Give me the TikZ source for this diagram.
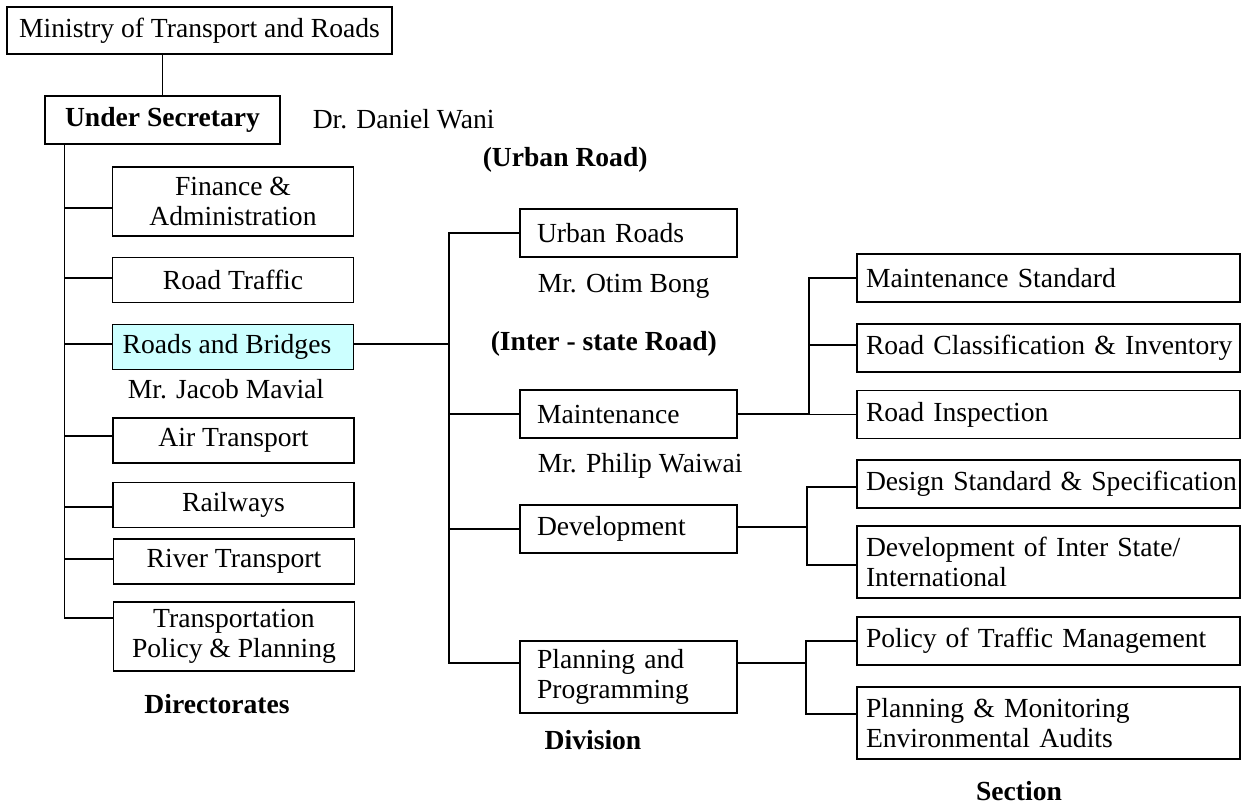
\documentclass[tikz,border=0pt]{standalone}
\usepackage{fontspec}
\setmainfont{Liberation Serif}
\definecolor{lightcyan}{HTML}{CCFFFF}
\begin{document}
\begin{tikzpicture}[x=1pt,y=-1pt, line width=1.5pt,
  every node/.style={font=\fontsize{27.6}{30}\selectfont},
  cbox/.style={draw, inner sep=0pt, align=center, minimum width=241pt, minimum height=45pt},
  mbox/.style={draw, inner xsep=17pt, inner ysep=0pt, text width=183pt, align=left, minimum height=48pt},
  rbox/.style={draw, inner xsep=9pt, inner ysep=0pt, text width=365pt, align=left, minimum height=48pt},
  lbl/.style={inner sep=0pt},
  blbl/.style={inner sep=0pt, font=\fontsize{27.6}{30}\selectfont\bfseries}]
\useasboundingbox (0,0) rectangle (1242,807);

% top
\node[cbox, minimum width=385pt, minimum height=47pt] (ministry) at (199.5,30.5) {Ministry of Transport and Roads};
\node[cbox, minimum width=235pt, minimum height=48pt] (under) at (162.5,120) {\textbf{Under Secretary}};
\draw (under.north) -- (under.north |- ministry.south);
\node[lbl, anchor=west] (dani) at (312,119) {Dr. Daniel Wani};

% directorates
\node[cbox, minimum height=69pt] (fin) at (233,201.5) {Finance \&\\Administration};
\node[cbox] (rt) at (233,280) {Road Traffic};
\node[cbox, fill=lightcyan] (rb) at (233,347) {Roads and Bridges\hspace{12pt}};
\node[lbl] (jacob) at (226,389) {Mr. Jacob Mavial};
\node[cbox] (air) at (233.5,440.5) {Air Transport};
\node[cbox] (rail) at (233.5,505) {Railways};
\node[cbox] (river) at (234,561.5) {River Transport};
\node[cbox, minimum height=69pt] (transp) at (234,636.5) {Transportation\\Policy \& Planning};
\node[blbl] (dirs) at (217,704) {Directorates};

\coordinate (t0) at ([xshift=20pt]under.south west);
\coordinate (fa) at ([yshift=-6.5pt]fin.west);
\coordinate (rta) at ([yshift=2pt]rt.west);
\coordinate (rba) at ([yshift=3pt]rb.west);
\coordinate (aira) at ([yshift=4.5pt]air.west);
\coordinate (raila) at ([yshift=-2pt]rail.west);
\coordinate (rivera) at ([yshift=2.5pt]river.west);
\coordinate (ta) at ([yshift=18.5pt]transp.west);
\draw (t0) |- (ta);
\draw (fa) -- (fa -| t0);
\draw (rta) -- (rta -| t0);
\draw (rba) -- (rba -| t0);
\draw (aira) -- (aira -| t0);
\draw (raila) -- (raila -| t0);
\draw (rivera) -- (rivera -| t0);

% divisions
\node[blbl, anchor=west] (urbanlbl) at (482,160) {(Urban Road)};
\node[mbox] (urban) at (628.5,233) {Urban Roads};
\node[lbl, anchor=west] (otim) at (537,286) {Mr. Otim Bong};
\node[blbl, anchor=west] (interlbl) at (490,344) {(Inter - state Road)};
\node[mbox] (maint) at (628.5,414) {Maintenance};
\node[lbl, anchor=west] (philip) at (537,466) {Mr. Philip Waiwai};
\node[mbox] (dev) at (628.5,529) {Development};
\node[mbox, minimum height=72pt] (plan) at (628.5,677) {Planning and\\Programming};
\node[blbl] (divlbl) at (593,740) {Division};

\coordinate (dx) at (449,0);
\coordinate (rbe) at ([yshift=3pt]rb.east);
\coordinate (pa) at ([yshift=14pt]plan.west);
\draw (urban.west) -- (urban.west -| dx) -- (pa -| dx) -- (pa);
\draw (rbe) -- (rbe -| dx);
\draw (maint.west) -- (maint.west -| dx);
\draw (dev.west) -- (dev.west -| dx);

% sections
\node[rbox] (ms) at (1048.5,278) {\mbox{Maintenance Standard}};
\node[rbox] (rc) at (1048.5,348) {\mbox{Road Classification \& Inventory}};
\node[rbox] (ri) at (1048.5,414.5) {\mbox{Road Inspection}};
\node[rbox] (ds) at (1048.5,484) {\mbox{Design Standard \& Specification}};
\node[rbox, minimum height=72pt] (dis) at (1048.5,562) {Development of Inter State/\\International};
\node[rbox] (ptm) at (1048.5,641) {\mbox{Policy of Traffic Management}};
\node[rbox, minimum height=72pt] (pme) at (1048.5,723) {Planning \& Monitoring\\Environmental Audits};
\node[blbl] (seclbl) at (1019,791) {Section};

\coordinate (mx) at (809,0);
\coordinate (rca) at ([yshift=3pt]rc.west);
\draw (maint.east) -- (maint.east -| mx);
\draw (ms.west) -- (ms.west -| mx) -- (ri.west -| mx) -- (ri.west);
\draw (rca) -- (rca -| mx);

\coordinate (dvx) at (807,0);
\coordinate (dsa) at ([yshift=-3pt]ds.west);
\coordinate (disa) at ([yshift=-3pt]dis.west);
\coordinate (deve) at ([yshift=2pt]dev.east);
\draw (deve) -- (deve -| dvx);
\draw (dsa) -- (dsa -| dvx) -- (disa -| dvx) -- (disa);

\coordinate (px) at (806,0);
\coordinate (pe) at ([yshift=14pt]plan.east);
\coordinate (pmea) at ([yshift=9pt]pme.west);
\draw (pe) -- (pe -| px);
\draw (ptm.west) -- (ptm.west -| px) -- (pmea -| px) -- (pmea);
\end{tikzpicture}
\end{document}
